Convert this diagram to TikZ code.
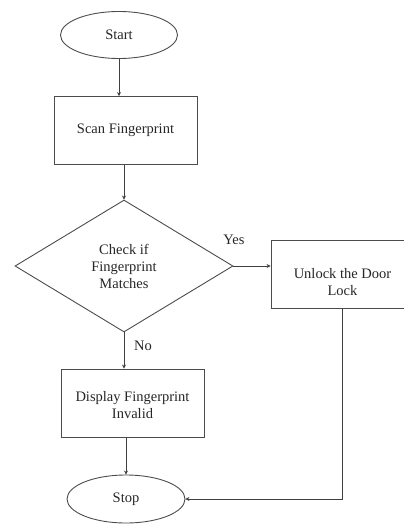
\documentclass[tikz,border=0pt]{standalone}
\usepackage{fontspec}
\setmainfont{Liberation Serif}
\usetikzlibrary{shapes.geometric,arrows.meta}
\begin{document}
\begin{tikzpicture}[x=1pt,y=-1pt,
  every node/.style={font=\fontsize{14.5}{17}\selectfont, text=black!85},
  term/.style={ellipse, draw=black!70, line width=0.9pt, inner sep=0pt},
  proc/.style={rectangle, draw=black!70, line width=0.9pt, minimum width=143pt, minimum height=68pt, align=center, inner sep=0pt},
  dec/.style={diamond, draw=black!70, line width=0.9pt, minimum width=218pt, minimum height=132pt, align=center, inner sep=0pt},
  txt/.style={align=center, inner sep=0pt},
  arr/.style={draw=black!75, line width=0.9pt, -{Stealth[length=4pt,width=4pt]}},
  lbl/.style={font=\fontsize{14.5}{17}\selectfont}]
\clip (0,0) rectangle (404,525);
\useasboundingbox (0,0) rectangle (404,525);
\node[term, minimum width=117pt, minimum height=47pt] (start) at (119,35) {Start};
\node[proc] (scan) at (125.5,130.5) {Scan Fingerprint};
\node[dec] (check) at (124,266) {Check if\\Fingerprint\\Matches};
\node[proc] (unlock) at (342.5,274) {};
\node[txt] (unlocktxt) at (342.5,282) {Unlock the Door\\Lock};
\node[proc] (display) at (132.5,403) {};
\node[txt] (displaytxt) at (132.5,405) {Display Fingerprint\\Invalid};
\node[term, minimum width=118pt, minimum height=48pt] (stop) at (126,499) {Stop};
\node[lbl] (yes) at (234,240) {Yes};
\node[lbl] (no) at (143,346) {No};
\draw[arr] (start.south) -- (start.south |- scan.north);
\draw[arr] (check.north |- scan.south) -- (check.north);
\draw[arr] (check.east) -- (check.east -| unlock.west);
\draw[arr] (check.south) -- (check.south |- display.north);
\draw[arr] (stop.north |- display.south) -- (stop.north);
\draw[arr] (unlock.south) -- (unlock.south |- stop.east) -- (stop.east);
\end{tikzpicture}
\end{document}
